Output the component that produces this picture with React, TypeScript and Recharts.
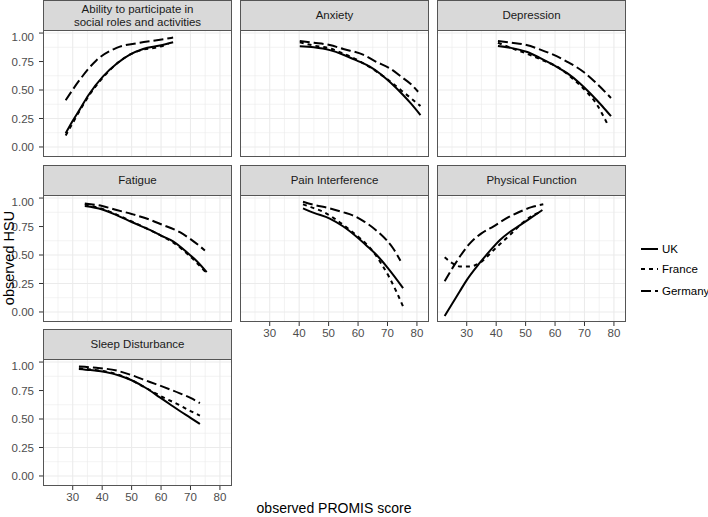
import React from "react";
import { LineChart, Line, XAxis, YAxis, CartesianGrid } from "recharts";

type Pt = [number, number];

const countries = ["UK", "France", "Germany"];
const xTicks = [30, 40, 50, 60, 70, 80];
const xMinor = [25, 35, 45, 55, 65, 75];
const yTicks = [0, 0.25, 0.5, 0.75, 1];
const yMinor = [0.125, 0.375, 0.625, 0.875];

// values, [PROMIS score, HSU]
const abilityUK: Pt[] = [[27.6, 0.12], [30, 0.23], [32.4, 0.33], [35.2, 0.45], [40.3, 0.62], [44.9, 0.73], [49.4, 0.81], [53.9, 0.86], [59.6, 0.89], [64.1, 0.92]];
const abilityFR: Pt[] = [[27.6, 0.1], [30, 0.21], [32.4, 0.32], [36, 0.47], [40.3, 0.61], [44.9, 0.73], [49.4, 0.81], [54, 0.855], [58, 0.87], [62.5, 0.905]];
const abilityDE: Pt[] = [[27.6, 0.41], [32.4, 0.59], [38, 0.76], [44.9, 0.87], [52.8, 0.915], [58, 0.935], [64.1, 0.96]];

const anxietyUK: Pt[] = [[40.2, 0.885], [45, 0.875], [50.4, 0.85], [55, 0.81], [59.5, 0.76], [64, 0.705], [67.4, 0.645], [71, 0.565], [75.3, 0.456], [78, 0.38], [81.2, 0.28]];
const anxietyFR: Pt[] = [[40.2, 0.918], [45, 0.89], [50.4, 0.865], [55, 0.82], [60, 0.76], [64, 0.7], [69.7, 0.6], [75, 0.49], [81.2, 0.36]];
const anxietyDE: Pt[] = [[40.2, 0.93], [45, 0.915], [50.4, 0.895], [55, 0.86], [61.7, 0.81], [66, 0.75], [70.8, 0.69], [75, 0.61], [78, 0.55], [80.4, 0.485]];

const depressionUK: Pt[] = [[40.6, 0.886], [45, 0.87], [50.3, 0.836], [55, 0.78], [59.4, 0.72], [64, 0.65], [68.4, 0.56], [72, 0.47], [76, 0.36], [79, 0.27]];
const depressionFR: Pt[] = [[40.6, 0.915], [45, 0.87], [50.3, 0.82], [55, 0.77], [61.6, 0.69], [66, 0.6], [70.7, 0.485], [74, 0.38], [78, 0.19]];
const depressionDE: Pt[] = [[40.6, 0.93], [45, 0.915], [50.3, 0.895], [55, 0.855], [59.4, 0.81], [64, 0.75], [69.6, 0.66], [74, 0.56], [79, 0.43]];

const fatigueUK: Pt[] = [[34.1, 0.93], [40, 0.9], [44.9, 0.85], [50, 0.79], [56.2, 0.72], [60, 0.67], [64.1, 0.62], [69.8, 0.5], [72, 0.45], [75.5, 0.35]];
const fatigueFR: Pt[] = [[34.1, 0.945], [40, 0.905], [44.9, 0.855], [50, 0.795], [56.2, 0.72], [60, 0.67], [64.1, 0.61], [69.8, 0.49], [75.5, 0.34]];
const fatigueDE: Pt[] = [[34.1, 0.953], [40, 0.93], [44.9, 0.895], [50, 0.86], [56.2, 0.81], [60, 0.77], [66.4, 0.7], [70, 0.64], [74.9, 0.54]];

const painUK: Pt[] = [[41.3, 0.91], [45, 0.87], [50.4, 0.82], [55, 0.75], [59.5, 0.66], [63, 0.58], [66.3, 0.5], [70, 0.39], [75.3, 0.21]];
const painFR: Pt[] = [[41.3, 0.945], [44, 0.92], [48.1, 0.88], [52, 0.82], [57.2, 0.72], [61, 0.64], [65.1, 0.53], [68, 0.42], [70.8, 0.295], [73, 0.18], [75.3, 0.047]];
const painDE: Pt[] = [[41.3, 0.967], [45, 0.94], [50.4, 0.91], [55, 0.875], [58, 0.85], [61.7, 0.8], [66, 0.72], [69.7, 0.63], [72, 0.555], [74.4, 0.45]];

const physicalUK: Pt[] = [[22.5, -0.035], [25, 0.07], [27.6, 0.18], [30, 0.28], [34.4, 0.43], [38, 0.54], [41.2, 0.63], [44.5, 0.7], [48, 0.76], [52, 0.83], [55.7, 0.895]];
const physicalFR: Pt[] = [[22.5, 0.48], [25, 0.43], [27.6, 0.4], [31, 0.4], [34.4, 0.43], [39, 0.54], [44.6, 0.675], [50.3, 0.81], [53, 0.855], [55.4, 0.88]];
const physicalDE: Pt[] = [[22.5, 0.27], [26, 0.42], [31, 0.6], [35, 0.69], [39, 0.75], [44, 0.83], [48, 0.88], [52, 0.92], [56, 0.945]];

const sleepUK: Pt[] = [[32.1, 0.94], [36, 0.93], [41.5, 0.91], [46, 0.88], [50, 0.84], [55, 0.77], [59.6, 0.69], [63, 0.63], [66.4, 0.57], [70, 0.51], [73.2, 0.456]];
const sleepFR: Pt[] = [[32.1, 0.945], [36, 0.935], [41.5, 0.915], [46, 0.885], [50, 0.84], [55, 0.77], [60, 0.7], [66.4, 0.62], [70, 0.57], [73.2, 0.53]];
const sleepDE: Pt[] = [[32.1, 0.96], [38, 0.95], [44.9, 0.925], [50, 0.885], [56.2, 0.825], [61, 0.78], [66.4, 0.725], [70, 0.685], [73.2, 0.64]];

const facets = [
  { title: ["Ability to participate in", "social roles and activities"], col: 0, row: 0, bottom: false, lines: [abilityUK, abilityFR, abilityDE] },
  { title: ["Anxiety"], col: 1, row: 0, bottom: false, lines: [anxietyUK, anxietyFR, anxietyDE] },
  { title: ["Depression"], col: 2, row: 0, bottom: false, lines: [depressionUK, depressionFR, depressionDE] },
  { title: ["Fatigue"], col: 0, row: 1, bottom: false, lines: [fatigueUK, fatigueFR, fatigueDE] },
  { title: ["Pain Interference"], col: 1, row: 1, bottom: true, lines: [painUK, painFR, painDE] },
  { title: ["Physical Function"], col: 2, row: 1, bottom: true, lines: [physicalUK, physicalFR, physicalDE] },
  { title: ["Sleep Disturbance"], col: 0, row: 2, bottom: true, lines: [sleepUK, sleepFR, sleepDE] },
];

const DASH = ["", "4 4", "10 4"];
const FONT = "'Liberation Sans', Arial, Helvetica, sans-serif";
const COL_LEFT = [43, 240, 437];
const ROW_TOP = [0, 165, 329];
const PW = 189;
const PH = 126;
const SH = 31;
const YW = 43;
const XH = 22;
const X_DOMAIN = [19.9, 84.1];
const Y_DOMAIN = [-0.088, 1.018];
const BORDER = "#555";

function Facet({ f }: { f: (typeof facets)[number] }) {
  const left = COL_LEFT[f.col];
  const top = ROW_TOP[f.row];
  const showY = f.col === 0;
  const showX = f.bottom;
  const tickStyle = { fill: "#4d4d4d", fontSize: 11.5, fontFamily: FONT };

  return (
    <>
      <div
        style={{
          position: "absolute", left, top, width: PW, height: SH,
          background: "#d9d9d9", border: `1px solid ${BORDER}`, boxSizing: "border-box",
          display: "flex", flexDirection: "column", alignItems: "center", justifyContent: "center",
          fontSize: 11.5, lineHeight: "12.5px", color: "#1a1a1a", fontFamily: FONT,
        }}
      >
        {f.title.map((t) => (
          <div key={t}>{t}</div>
        ))}
      </div>
      <div style={{ position: "absolute", left: showY ? left - YW : left, top: top + SH }}>
        <LineChart
          width={PW + (showY ? YW : 0)}
          height={PH + (showX ? XH : 0)}
          margin={{ top: 0, right: 0, bottom: 0, left: 0 }}
        >
          <CartesianGrid
            stroke="#ebebeb"
            strokeWidth={0.6}
            horizontalValues={yMinor}
            verticalValues={xMinor}
          />
          <CartesianGrid
            stroke="#ebebeb"
            strokeWidth={1.1}
            horizontalValues={yTicks}
            verticalValues={xTicks}
          />
          <XAxis
            type="number"
            dataKey="x"
            domain={X_DOMAIN}
            allowDataOverflow
            ticks={xTicks}
            hide={!showX}
            height={XH}
            tickSize={4}
            tickMargin={3}
            tick={tickStyle}
            axisLine={false}
            tickLine={{ stroke: "#333" }}
          />
          <YAxis
            type="number"
            domain={Y_DOMAIN}
            allowDataOverflow
            ticks={yTicks}
            hide={!showY}
            width={YW}
            tickSize={4}
            tickMargin={5}
            tick={tickStyle}
            axisLine={false}
            tickLine={{ stroke: "#333" }}
            tickFormatter={(v: number) => v.toFixed(2)}
          />
          {f.lines.map((pts, i) => (
            <Line
              key={countries[i]}
              data={pts.map(([x, y]) => ({ x, y }))}
              dataKey="y"
              name={countries[i]}
              type="monotone"
              stroke="#000"
              strokeWidth={2}
              strokeDasharray={DASH[i] || undefined}
              dot={false}
              activeDot={false}
              isAnimationActive={false}
            />
          ))}
        </LineChart>
      </div>
      <div
        style={{
          position: "absolute", left, top: top + SH - 1, width: PW, height: PH + 1,
          border: `1px solid ${BORDER}`, boxSizing: "border-box", pointerEvents: "none",
        }}
      />
    </>
  );
}

function KeyLegend() {
  const ys = [249, 269, 291];
  return (
    <>
      {countries.map((c, i) => (
        <div key={c} style={{ position: "absolute", left: 641, top: ys[i] - 8, height: 16, display: "flex", alignItems: "center" }}>
          <svg width={17} height={16}>
            <line x1={0} x2={17} y1={8} y2={8} stroke="#000" strokeWidth={2} strokeDasharray={DASH[i] || undefined} />
          </svg>
          <span style={{ marginLeft: 4, fontSize: 11.5, fontFamily: FONT, color: "#000" }}>{c}</span>
        </div>
      ))}
    </>
  );
}

export default function App() {
  return (
    <div style={{ position: "absolute", left: 0, top: 0, width: 708, height: 517, background: "#fff", overflow: "hidden" }}>
      {facets.map((f) => (
        <Facet key={f.title.join(" ")} f={f} />
      ))}
      <KeyLegend />
      <div
        style={{
          position: "absolute", left: 9, top: 258, transform: "translate(-50%, -50%) rotate(-90deg)",
          whiteSpace: "nowrap", fontSize: 14.5, fontFamily: FONT, color: "#000",
        }}
      >
        observed HSU
      </div>
      <div
        style={{
          position: "absolute", left: 334, top: 500, transform: "translateX(-50%)",
          whiteSpace: "nowrap", fontSize: 14, fontFamily: FONT, color: "#000", lineHeight: "16px",
        }}
      >
        observed PROMIS score
      </div>
    </div>
  );
}
